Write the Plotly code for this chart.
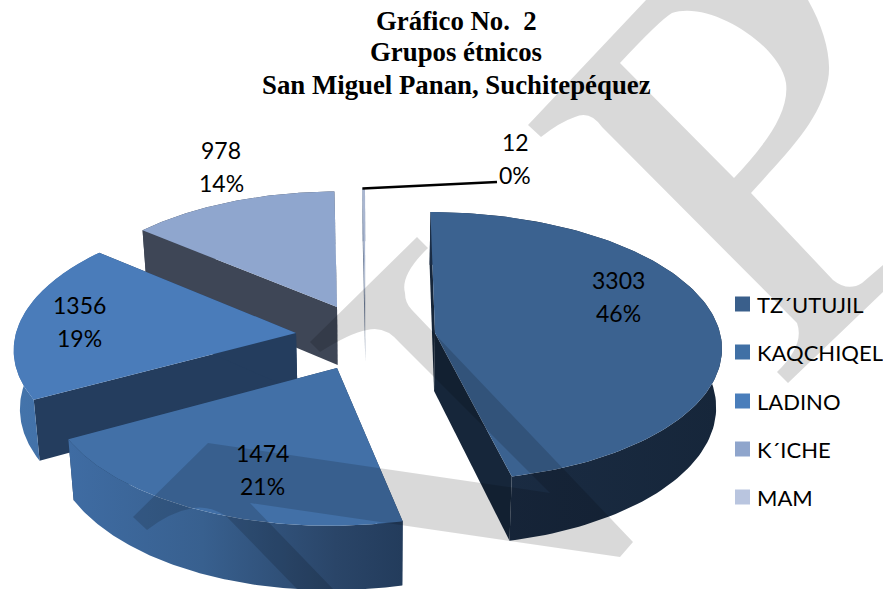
import numpy as np
import plotly.graph_objects as go

# ---------- data ----------
categories = ["TZ´UTUJIL", "KAQCHIQEL", "LADINO", "K´ICHE", "MAM"]
values = [3303, 1474, 1356, 978, 12]
title_lines = ["Gráfico No.  2", "Grupos étnicos", "San Miguel Panan, Suchitepéquez"]

# ---------- style ----------
top_colors = ["#3B6290", "#4270A7", "#4A7CBA", "#8FA6CE", "#A9B6D0"]
legend_colors = ["#3A5F8B", "#4070A5", "#4A7EBB", "#8FA5CC", "#B9C5DF"]
cut_colors = ["#16263A", "#233C5C", "#243D5E", "#3E4656", "#6F7F99"]
wall_scales = [
    [[0, "#1B2D45"], [1, "#16263A"]],
    [[0, "#3F6CA3"], [0.4, "#38608F"], [0.8, "#2A4568"], [1, "#233C5C"]],
    [[0, "#4474AB"], [1, "#3F6CA3"]],
    [[0, "#3E4656"], [1, "#3E4656"]],
    [[0, "#8090AA"], [1, "#8090AA"]],
]
# projection: centre x, centre y, radius x, radius y, horizontal shear of each exploded slice
geometry = [
    (435, 333, 285, 133, -5),
    (337, 368, 288, 142, 6),
    (296, 333, 280, 133, 8),
    (337, 307, 270, 127, 0),
    (365, 304, 270, 127, 0),
]
draw_order = [3, 4, 2, 1, 0]
label_pos = [(618, 280), (262, 453), (79, 305), (221, 150), (515, 142)]
legend_rows = [304, 352, 401, 449, 497]
PERSP, DEPTH, VX, SHRINK = 0.1, 58, 380, 0.983
W, H = 883, 589

total = sum(values)
frac = np.cumsum([0] + values) / total * 2 * np.pi


def proj(g, t):
    t = np.asarray(t, dtype=float)
    u, v = np.sin(t), np.cos(t)
    s = 1 / (1 + PERSP * v)
    return g[0] + (g[2] * u + g[4] * v) * s, g[1] - g[3] * v * s


def drop(g, x, y, t):
    s = 1 / (1 + PERSP * np.cos(t))
    return VX + (np.asarray(x) - VX) * SHRINK, np.asarray(y) + DEPTH * s


def apex_drop(g):
    return VX + (g[0] - VX) * SHRINK, g[1] + DEPTH


def poly(xs, ys, color=None, scale=None):
    kw = dict(x=list(xs) + [xs[0]], y=list(ys) + [ys[0]], mode="lines", fill="toself",
              line=dict(width=0), hoverinfo="skip", showlegend=False)
    if scale is not None:
        kw["fillgradient"] = dict(type="horizontal", colorscale=scale)
    else:
        kw["fillcolor"] = color
    return go.Scatter(**kw)


fig = go.Figure()

for i in draw_order:
    g = geometry[i]
    a0, a1 = frac[i], frac[i + 1]
    t = np.linspace(a0, a1, 120)
    ax, ay = proj(g, t)
    bx, by = drop(g, ax, ay, t)
    apx, apy = apex_drop(g)
    # cut faces
    for idx in (0, -1):
        fig.add_trace(poly([g[0], ax[idx], bx[idx], apx], [g[1], ay[idx], by[idx], apy], color=cut_colors[i]))
    # outer wall
    fig.add_trace(poly(np.r_[ax, bx[::-1]], np.r_[ay, by[::-1]], scale=wall_scales[i]))
    # top face
    fig.add_trace(poly(np.r_[g[0], ax], np.r_[g[1], ay], color=top_colors[i]))

# leader line for the MAM label
lx, ly = proj(geometry[4], [frac[4]])
fig.add_trace(go.Scatter(x=[lx[0], 497], y=[ly[0], 182], mode="lines", line=dict(color="black", width=2.5),
                         hoverinfo="skip", showlegend=False))

annotations = []

# legend entries
for name, c, y in zip(categories, legend_colors, legend_rows):
    fig.add_trace(go.Scatter(x=[742.5], y=[y], mode="markers", name=name, showlegend=False, hoverinfo="skip",
                             marker=dict(symbol="square", size=15, color=c, line=dict(width=0))))
    annotations.append(dict(x=757, y=y, text=name, showarrow=False, xanchor="left", yanchor="middle", xshift=-2,
                            font=dict(family="Lato", size=22, color="black")))

for (v, (x, y)) in zip(values, label_pos):
    pct = round(v / total * 100)
    for text, yy in ((str(v), y), (f"{pct}%", y + 33)):
        annotations.append(dict(x=x, y=yy, text=text, showarrow=False, xanchor="center", yanchor="middle",
                                font=dict(family="Lato", size=23, color="black")))
for line, y in zip(title_lines, (21, 52, 85)):
    annotations.append(dict(x=456, y=y, text=f"<b>{line}</b>", showarrow=False, xanchor="center", yanchor="middle",
                            font=dict(family="Liberation Serif", size=26.8, color="black")))

WM = "rgba(0,0,0,0.15)"
watermark_a = ("M528,125 L646,0 L808,0 C825,30 832,60 828,80 C820,120 790,150 751,193 L833,280 "
               "Q848,292 862,283 L883,265 L883,292 L788,383 L777,372 Q805,345 797,323 L602,127 "
               "Q590,110 575,117 Q560,122 541,137 Z "
               "M620,63 L734,178 C760,150 790,115 786,83 C780,45 710,0 672,13 Q660,20 620,63 Z")
watermark_b = ("M133,517 L208,443 L550,493 L400,343 Q385,325 367,330 Q350,333 320,352 L310,342 L417,237 L428,248 "
               "Q400,275 405,293 Q405,303 412,310 L633,542 L620,557 L250,503 L333,589 L297,589 L227,517 "
               "Q210,505 193,508 Q170,512 147,530 Z")

fig.update_layout(
    width=W, height=H, margin=dict(l=0, r=0, t=0, b=0),
    paper_bgcolor="white", plot_bgcolor="white", showlegend=False,
    xaxis=dict(range=[0, W], visible=False, fixedrange=True),
    yaxis=dict(range=[H, 0], visible=False, fixedrange=True),
    annotations=annotations,
    shapes=[
        dict(type="path", path=watermark_a, fillcolor=WM, line=dict(width=0), layer="above"),
        dict(type="path", path=watermark_b, fillcolor=WM, line=dict(width=0), layer="above"),
    ],
)
fig.write_html("out.html", config=dict(displayModeBar=False),
               post_script="document.body.style.margin='0';document.body.style.overflow='hidden';")
